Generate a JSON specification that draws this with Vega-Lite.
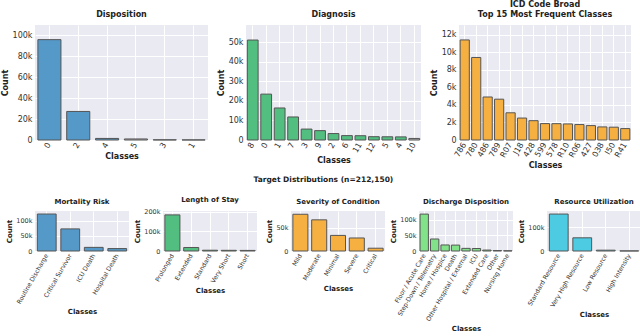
{
  "$schema": "https://vega.github.io/schema/vega-lite/v6.json",
  "padding": {"left": 1, "top": 1, "right": 2, "bottom": 2},
  "background": "white",
  "datasets": {
    "disposition": [
      {"cls": "0", "count": 96000}, {"cls": "2", "count": 27300}, {"cls": "4", "count": 1500},
      {"cls": "5", "count": 1000}, {"cls": "3", "count": 200}, {"cls": "1", "count": 100}
    ],
    "diagnosis": [
      {"cls": "8", "count": 51200}, {"cls": "0", "count": 23500}, {"cls": "1", "count": 16400},
      {"cls": "7", "count": 11800}, {"cls": "3", "count": 5600}, {"cls": "9", "count": 4800},
      {"cls": "2", "count": 3300}, {"cls": "6", "count": 2250}, {"cls": "11", "count": 2200},
      {"cls": "12", "count": 1700}, {"cls": "5", "count": 1650}, {"cls": "4", "count": 1600},
      {"cls": "10", "count": 800}
    ],
    "icd": [
      {"cls": "786", "count": 11400}, {"cls": "780", "count": 9400}, {"cls": "486", "count": 4900},
      {"cls": "789", "count": 4650}, {"cls": "R07", "count": 3100}, {"cls": "J18", "count": 2500},
      {"cls": "428", "count": 2200}, {"cls": "599", "count": 1870}, {"cls": "578", "count": 1860},
      {"cls": "R10", "count": 1830}, {"cls": "R06", "count": 1760}, {"cls": "427", "count": 1640},
      {"cls": "038", "count": 1490}, {"cls": "I50", "count": 1460}, {"cls": "R41", "count": 1300}
    ],
    "mortality": [
      {"cls": "Routine Discharge", "count": 122000}, {"cls": "Critical Survivor", "count": 73000},
      {"cls": "ICU Death", "count": 12000}, {"cls": "Hospital Death", "count": 8000}
    ],
    "los": [
      {"cls": "Prolonged", "count": 185000}, {"cls": "Extended", "count": 18000},
      {"cls": "Standard", "count": 4000}, {"cls": "Very Short", "count": 3500}, {"cls": "Short", "count": 3000}
    ],
    "severity": [
      {"cls": "Mild", "count": 79000}, {"cls": "Moderate", "count": 67000}, {"cls": "Minimal", "count": 33500},
      {"cls": "Severe", "count": 28000}, {"cls": "Critical", "count": 6000}
    ],
    "discharge": [
      {"cls": "Floor / Acute Care", "count": 119000}, {"cls": "Step-Down / Telemetry", "count": 38700},
      {"cls": "Home / Hospice", "count": 19500}, {"cls": "Death", "count": 19000},
      {"cls": "Other Hospital / External", "count": 8500}, {"cls": "ICU", "count": 8000},
      {"cls": "Extended Care", "count": 3000}, {"cls": "Other", "count": 1500}, {"cls": "Nursing Home", "count": 800}
    ],
    "resource": [
      {"cls": "Standard Resource", "count": 157000}, {"cls": "Very High Resource", "count": 56000},
      {"cls": "Low Resource", "count": 3500}, {"cls": "High Intensity", "count": 500}
    ]
  },
  "vconcat": [
    {
      "hconcat": [
        {
          "title": "Disposition",
          "width": 173, "height": 115,
          "data": {"name": "disposition"},
          "mark": {"type": "bar", "stroke": "#555555", "strokeWidth": 1},
          "encoding": {
            "x": {"field": "cls", "type": "nominal", "sort": null, "scale": {"paddingInner": 0.2, "paddingOuter": 0.1},
                  "axis": {"title": "Classes", "labelAngle": -60, "grid": true, "bandPosition": 0.5}},
            "y": {"field": "count", "type": "quantitative", "scale": {"domain": [0, 110000], "nice": false},
                  "axis": {"title": "Count", "values": [0, 20000, 40000, 60000, 80000, 100000]}},
            "fill": {"condition": {"test": "datum.cls == '5'", "value": "#b5b5b5"}, "value": "#5499c7"}
          }
        },
        {
          "title": "Diagnosis",
          "width": 175, "height": 115,
          "data": {"name": "diagnosis"},
          "mark": {"type": "bar", "stroke": "#555555", "strokeWidth": 1},
          "encoding": {
            "x": {"field": "cls", "type": "nominal", "sort": null, "scale": {"paddingInner": 0.2, "paddingOuter": 0.1},
                  "axis": {"title": "Classes", "labelAngle": -60, "grid": true, "bandPosition": 0.5}},
            "y": {"field": "count", "type": "quantitative", "scale": {"domain": [0, 58900], "nice": false},
                  "axis": {"title": "Count", "values": [0, 10000, 20000, 30000, 40000, 50000]}},
            "fill": {"condition": {"test": "datum.cls == '10'", "value": "#b5b5b5"}, "value": "#52be80"}
          }
        },
        {
          "title": {"text": ["ICD Code Broad", "Top 15 Most Frequent Classes"]},
          "width": 172, "height": 115,
          "data": {"name": "icd"},
          "mark": {"type": "bar", "stroke": "#555555", "strokeWidth": 1},
          "encoding": {
            "x": {"field": "cls", "type": "nominal", "sort": null, "scale": {"paddingInner": 0.2, "paddingOuter": 0.1},
                  "axis": {"title": "Classes", "labelAngle": -60, "grid": true, "bandPosition": 0.5}},
            "y": {"field": "count", "type": "quantitative", "scale": {"domain": [0, 13100], "nice": false},
                  "axis": {"title": "Count", "values": [0, 2000, 4000, 6000, 8000, 10000, 12000]}},
            "fill": {"value": "#f5b041"}
          }
        }
      ],
      "spacing": 38,
      "bounds": "flush"
    },
    {
      "title": {"text": "Target Distributions (n=212,150)", "fontSize": 7.5, "anchor": "middle", "offset": 12},
      "hconcat": [
        {
          "title": {"text": "Mortality Risk", "fontSize": 7},
          "width": 94, "height": 40,
          "data": {"name": "mortality"},
          "mark": {"type": "bar", "stroke": "#555555", "strokeWidth": 1},
          "encoding": {
            "x": {"field": "cls", "type": "nominal", "sort": null, "scale": {"paddingInner": 0.2, "paddingOuter": 0.1},
                  "axis": {"title": "Classes", "labelAngle": -60, "grid": true, "bandPosition": 0.5, "labelFontSize": 6.2, "titleFontSize": 7}},
            "y": {"field": "count", "type": "quantitative", "scale": {"domain": [0, 132000], "nice": false},
                  "axis": {"title": "Count", "values": [0, 50000, 100000], "labelFontSize": 6.5, "titleFontSize": 7}},
            "fill": {"value": "#5499c7"}
          }
        },
        {
          "title": {"text": "Length of Stay", "fontSize": 7},
          "width": 94, "height": 40,
          "data": {"name": "los"},
          "mark": {"type": "bar", "stroke": "#555555", "strokeWidth": 1},
          "encoding": {
            "x": {"field": "cls", "type": "nominal", "sort": null, "scale": {"paddingInner": 0.2, "paddingOuter": 0.1},
                  "axis": {"title": "Classes", "labelAngle": -60, "grid": true, "bandPosition": 0.5, "labelFontSize": 6.2, "titleFontSize": 7}},
            "y": {"field": "count", "type": "quantitative", "scale": {"domain": [0, 205000], "nice": false},
                  "axis": {"title": "Count", "values": [0, 100000, 200000], "labelFontSize": 6.5, "titleFontSize": 7}},
            "fill": {"condition": {"test": "datum.cls == 'Short'", "value": "#b5b5b5"}, "value": "#52be80"}
          }
        },
        {
          "title": {"text": "Severity of Condition", "fontSize": 7},
          "width": 94, "height": 40,
          "data": {"name": "severity"},
          "mark": {"type": "bar", "stroke": "#555555", "strokeWidth": 1},
          "encoding": {
            "x": {"field": "cls", "type": "nominal", "sort": null, "scale": {"paddingInner": 0.2, "paddingOuter": 0.1},
                  "axis": {"title": "Classes", "labelAngle": -60, "grid": true, "bandPosition": 0.5, "labelFontSize": 6.2, "titleFontSize": 7}},
            "y": {"field": "count", "type": "quantitative", "scale": {"domain": [0, 86000], "nice": false},
                  "axis": {"title": "Count", "values": [0, 50000], "labelFontSize": 6.5, "titleFontSize": 7}},
            "fill": {"value": "#f5b041"}
          }
        },
        {
          "title": {"text": "Discharge Disposition", "fontSize": 7},
          "width": 94, "height": 40,
          "data": {"name": "discharge"},
          "mark": {"type": "bar", "stroke": "#555555", "strokeWidth": 1},
          "encoding": {
            "x": {"field": "cls", "type": "nominal", "sort": null, "scale": {"paddingInner": 0.2, "paddingOuter": 0.1},
                  "axis": {"title": "Classes", "labelAngle": -60, "grid": true, "bandPosition": 0.5, "labelFontSize": 6.2, "titleFontSize": 7}},
            "y": {"field": "count", "type": "quantitative", "scale": {"domain": [0, 129000], "nice": false},
                  "axis": {"title": "Count", "values": [0, 50000, 100000], "labelFontSize": 6.5, "titleFontSize": 7}},
            "fill": {"condition": {"test": "datum.cls == 'Nursing Home'", "value": "#b5b5b5"}, "value": "#82e28a"}
          }
        },
        {
          "title": {"text": "Resource Utilization", "fontSize": 7},
          "width": 94, "height": 40,
          "data": {"name": "resource"},
          "mark": {"type": "bar", "stroke": "#555555", "strokeWidth": 1},
          "encoding": {
            "x": {"field": "cls", "type": "nominal", "sort": null, "scale": {"paddingInner": 0.2, "paddingOuter": 0.1},
                  "axis": {"title": "Classes", "labelAngle": -60, "grid": true, "bandPosition": 0.5, "labelFontSize": 6.2, "titleFontSize": 7}},
            "y": {"field": "count", "type": "quantitative", "scale": {"domain": [0, 170000], "nice": false},
                  "axis": {"title": "Count", "values": [0, 100000], "labelFontSize": 6.5, "titleFontSize": 7}},
            "fill": {"value": "#4ccbe2"}
          }
        }
      ],
      "spacing": 34,
      "bounds": "flush"
    }
  ],
  "spacing": 6,
  "config": {
    "font": "DejaVu Sans",
    "view": {"fill": "#eaeaf2", "stroke": null},
    "axis": {
      "domain": false, "ticks": false, "gridColor": "#ffffff", "gridWidth": 1,
      "labelFont": "DejaVu Sans", "labelFontSize": 8, "labelColor": "#333333", "labelPadding": 3,
      "titleFont": "DejaVu Sans", "titleFontSize": 8, "titleFontWeight": "bold", "titleColor": "#222222", "titlePadding": 3
    },
    "axisY": {"labelExpr": "datum.value == 0 ? '0' : format(datum.value, '~s')"},
    "title": {"font": "DejaVu Sans", "fontSize": 8, "fontWeight": "bold", "color": "#222222", "offset": 6}
  }
}
